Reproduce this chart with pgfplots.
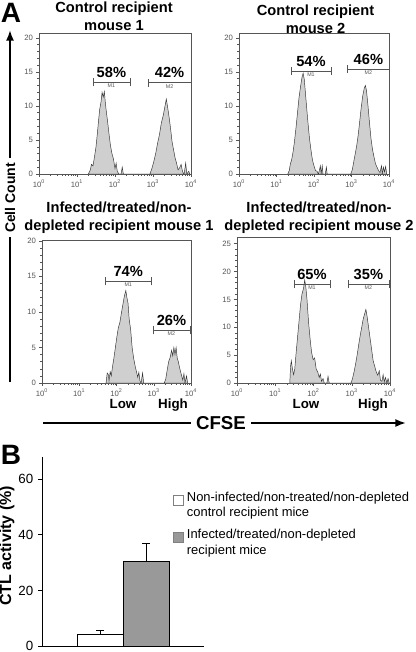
\documentclass[border=0pt]{standalone}
\usepackage{pgfplots}
\pgfplotsset{compat=1.18}
\usepackage{fontspec}
\setmainfont{Liberation Sans}
\usetikzlibrary{arrows.meta}
\definecolor{histfill}{HTML}{CFCFCF}
\definecolor{axgray}{HTML}{555555}
\definecolor{bargray}{HTML}{999999}

\pgfplotsset{
 hist/.style={
  scale only axis, xmin=0, xmax=4, ymin=0, anchor=south west,
  axis line style={axgray, line width=0.4pt},
  xtick={0,1,2,3,4},
  xticklabels={10\textsuperscript{0},10\textsuperscript{1},10\textsuperscript{2},10\textsuperscript{3},10\textsuperscript{4}},
  minor xtick={0.301,0.477,0.602,0.699,0.778,0.845,0.903,0.954,1.301,1.477,1.602,1.699,1.778,1.845,1.903,1.954,2.301,2.477,2.602,2.699,2.778,2.845,2.903,2.954,3.301,3.477,3.602,3.699,3.778,3.845,3.903,3.954},
  ytick distance=5, minor y tick num=4,
  tick align=outside, xtick pos=bottom, ytick pos=left,
  major tick length=2pt, minor tick length=1.2pt,
  tick style={axgray, line width=0.3pt},
  tick label style={font=\fontsize{5.8}{6.5}\selectfont, text=axgray},
  /pgf/number format/assume math mode=true,
  xticklabel style={yshift=1pt}, yticklabel style={xshift=1pt},
 },
 hplot/.style={fill=histfill, draw=black!80, line width=0.35pt},
}
\tikzset{gatestyle/.style={axgray, line width=0.45pt}}
\newcommand\gate[5]{%
 \draw[gatestyle] ([yshift=-3pt]axis cs:#1,#3) -- ([yshift=3pt]axis cs:#1,#3)
   ([yshift=-3pt]axis cs:#2,#3) -- ([yshift=3pt]axis cs:#2,#3)
   (axis cs:#1,#3) -- (axis cs:#2,#3);
 \path (axis cs:#1,#3) -- node[above, font=\bfseries\fontsize{11}{12}\selectfont]{#4\%}
   node[below=0pt, inner sep=1pt, font=\fontsize{4}{4}\selectfont, text=axgray]{#5} (axis cs:#2,#3);
}

\begin{document}
\begin{tikzpicture}[x=0.75pt,y=-0.75pt]
\useasboundingbox (0,0) rectangle (416,652);

% ---------- A1
\begin{axis}[hist, at={(29.25pt,-130.5pt)}, width=114pt, height=105.75pt, ymax=20.7]
\addplot[hplot] coordinates {
(1.30,0)(1.35,0.6)(1.38,1.4)(1.42,1.2)(1.46,2.5)(1.50,4.0)(1.54,6.2)(1.57,8.0)(1.60,9.6)(1.63,10.5)(1.66,12.0)(1.69,11.3)(1.72,12.1)(1.75,10.2)(1.78,8.8)(1.81,7.5)(1.84,6.0)(1.88,4.2)(1.92,3.0)(1.96,2.2)(2.00,0.8)(2.03,1.6)(2.06,0.4)(2.10,0)(2.16,0)(2.19,1.0)(2.22,0)
(2.92,0)(2.97,0.8)(3.02,1.8)(3.07,3.0)(3.12,4.5)(3.17,5.8)(3.22,7.5)(3.27,8.6)(3.31,9.8)(3.35,11.0)(3.38,10.0)(3.42,8.5)(3.46,6.8)(3.50,4.8)(3.54,3.6)(3.58,2.4)(3.62,1.6)(3.66,0.6)(3.70,0.9)(3.74,1.4)(3.78,0.3)(3.82,0)(3.86,1.6)(3.89,0)(3.94,0.4)(3.97,0)
} \closedcycle;
\gate{1.42}{2.39}{13.5}{58}{M1}
\gate{2.87}{4.0}{13.4}{42}{M2}
\end{axis}

% ---------- A2
\begin{axis}[hist, at={(179.25pt,-130.5pt)}, width=112.5pt, height=105.75pt, ymax=20.7]
\addplot[hplot] coordinates {
(1.30,0)(1.34,0.5)(1.37,1.5)(1.40,2.0)(1.44,3.2)(1.48,4.8)(1.52,6.8)(1.56,9.0)(1.60,11.2)(1.64,12.8)(1.68,14.2)(1.71,14.8)(1.74,13.9)(1.77,12.0)(1.80,10.0)(1.84,7.5)(1.88,5.2)(1.92,3.5)(1.96,2.0)(2.00,1.2)(2.04,0.5)(2.08,0.4)(2.12,0)(2.17,1.2)(2.19,0)(2.22,1.2)(2.24,0)(2.30,0)(2.33,1.0)(2.35,0)
(2.98,0)(3.02,0.6)(3.06,1.8)(3.10,3.0)(3.14,4.2)(3.18,5.8)(3.22,7.8)(3.26,9.8)(3.30,11.5)(3.34,12.6)(3.37,13.0)(3.40,12.2)(3.44,10.0)(3.48,7.5)(3.52,5.2)(3.56,3.6)(3.60,2.5)(3.64,1.5)(3.68,1.0)(3.72,0.5)(3.76,0.2)(3.80,1.2)(3.82,0)(3.85,1.0)(3.88,0.3)(3.91,1.1)(3.94,0)
} \closedcycle;
\gate{1.39}{2.45}{15.1}{54}{M1}
\gate{2.9}{4.0}{15.4}{46}{M2}
\end{axis}

% ---------- A3
\begin{axis}[hist, at={(31.5pt,-287.25pt)}, width=111.75pt, height=106.7pt, ymax=20]
\addplot[hplot] coordinates {
(1.72,0)(1.75,1.4)(1.78,1.2)(1.80,0.3)(1.83,1.6)(1.86,1.0)(1.89,2.2)(1.93,3.5)(1.97,5.0)(2.01,6.5)(2.05,7.8)(2.09,8.5)(2.13,9.8)(2.17,11.0)(2.21,12.2)(2.25,13.0)(2.28,12.0)(2.31,11.2)(2.34,9.0)(2.38,7.5)(2.42,5.0)(2.46,3.5)(2.50,2.4)(2.54,1.5)(2.57,0.8)(2.60,1.5)(2.63,0.3)(2.66,0)(2.70,1.4)(2.73,0)
(3.28,0)(3.32,0.5)(3.36,1.8)(3.40,3.0)(3.44,3.6)(3.48,4.6)(3.51,3.8)(3.54,5.0)(3.57,4.0)(3.60,5.0)(3.63,3.5)(3.66,3.0)(3.70,2.0)(3.74,1.2)(3.78,0.4)(3.81,1.3)(3.84,0)(3.88,1.0)(3.91,0)
} \closedcycle;
\gate{1.7}{2.93}{14.3}{74}{M1}
\gate{2.98}{3.97}{7.4}{26}{M2}
\end{axis}

% ---------- A4
\begin{axis}[hist, at={(177.75pt,-287.25pt)}, width=114.75pt, height=109.5pt, ymax=26.2]
\addplot[hplot] coordinates {
(1.38,0)(1.40,3.0)(1.42,4.0)(1.45,2.5)(1.48,1.5)(1.51,2.5)(1.54,5.0)(1.58,8.0)(1.62,11.0)(1.66,14.0)(1.70,16.0)(1.74,17.0)(1.77,18.5)(1.80,17.2)(1.83,15.0)(1.87,11.0)(1.91,8.0)(1.95,5.5)(1.99,4.2)(2.03,4.5)(2.07,2.5)(2.11,2.0)(2.15,1.0)(2.18,1.6)(2.21,0.3)(2.25,0.8)(2.28,0)(2.35,0)(2.38,1.2)(2.41,0)
(2.98,0)(3.02,0.8)(3.06,2.0)(3.10,3.4)(3.14,5.0)(3.18,6.8)(3.22,8.5)(3.26,10.0)(3.30,11.5)(3.34,12.5)(3.37,13.2)(3.40,12.0)(3.44,10.0)(3.48,8.0)(3.52,6.0)(3.56,4.0)(3.60,3.0)(3.64,2.0)(3.68,1.4)(3.72,2.2)(3.75,0.5)(3.79,0.3)(3.82,1.5)(3.85,0.2)(3.88,1.0)(3.92,0)(3.95,0.8)(3.98,0)
} \closedcycle;
\gate{1.49}{2.43}{17.7}{65}{M1}
\gate{2.9}{3.97}{17.7}{35}{M2}
\end{axis}

% ---------- B
\begin{axis}[scale only axis, at={(31.5pt,-484.5pt)}, anchor=south west,
  width=121.5pt, height=141.75pt, xmin=0, xmax=162, ymin=0, ymax=68,
  axis x line=bottom, axis y line=left, axis line style={-, black, line width=0.6pt},
  xtick=\empty, ytick={0,20,40,60}, tick align=outside, major tick length=3pt,
  tick style={black, line width=0.6pt},
  tick label style={font=\fontsize{10}{12}\selectfont},
  /pgf/number format/assume math mode=true,
  ylabel={CTL activity (\%)},
  ylabel style={font=\bfseries\fontsize{12}{14}\selectfont, at={(axis description cs:-0.216,0.53)}, anchor=center},
  legend style={at={(0.809,0.83)}, anchor=north west, draw=none, fill=none, inner sep=0pt,
    font=\fontsize{9.7}{11.5}\selectfont, cells={align=left}, row sep=4pt},
  legend cell align=left,
]
\addplot[ybar, bar width=46, bar shift=0pt, fill=white, draw=black, line width=0.7pt,
  legend image code/.code={\draw[draw=gray, fill=white] (0pt,0pt) rectangle (7.5pt,7.5pt);},
  error bars/.cd, y dir=plus, y explicit, error bar style={black, line width=0.7pt},
  error mark=-, error mark options={rotate=90, black, mark size=3pt, line width=0.7pt}]
  coordinates {(58,4.3) +- (0,1.2)};
\addlegendentry{Non-infected/non-treated/non-depleted\\control recipient mice}
\addplot[ybar, bar width=46, bar shift=0pt, fill=bargray, draw=black, line width=0.7pt,
  legend image code/.code={\draw[draw=gray, fill=bargray] (0pt,0pt) rectangle (7.5pt,7.5pt);},
  error bars/.cd, y dir=plus, y explicit, error bar style={black, line width=0.7pt},
  error mark=-, error mark options={rotate=90, black, mark size=3pt, line width=0.7pt}]
  coordinates {(104,30.3) +- (0,6.7)};
\addlegendentry{Infected/treated/non-depleted\\recipient mice}
\end{axis}

% ---------- annotations
\node[font=\bfseries\fontsize{21}{21}\selectfont] at (11,13) {A};
\node[font=\bfseries\fontsize{21}{21}\selectfont] at (11,455) {B};
\node[font=\bfseries\fontsize{11}{13.5}\selectfont, align=center] at (114,16) {Control recipient\\mouse 1};
\node[font=\bfseries\fontsize{11}{13.5}\selectfont, align=center] at (315.5,19.5) {Control recipient\\mouse 2};
\node[font=\bfseries\fontsize{11}{13.5}\selectfont, align=center] at (119,217.5) {Infected/treated/non-\\depleted recipient mouse 1};
\node[font=\bfseries\fontsize{11}{13.5}\selectfont, align=center] at (319,217.5) {Infected/treated/non-\\depleted recipient mouse 2};
\node[font=\bfseries\fontsize{10}{12}\selectfont, anchor=base] at (123,408) {Low};
\node[font=\bfseries\fontsize{10}{12}\selectfont, anchor=base] at (173,408) {High};
\node[font=\bfseries\fontsize{10}{12}\selectfont, anchor=base] at (306,408) {Low};
\node[font=\bfseries\fontsize{10}{12}\selectfont, anchor=base] at (373,408) {High};
\node[font=\bfseries\fontsize{14}{14}\selectfont] at (221,423) {CFSE};
\draw[line width=1.3pt] (43,423) -- (191,423);
\draw[line width=1.3pt, -{Latex[length=8pt,width=6pt]}] (251,423) -- (406,423);
\node[rotate=90, font=\bfseries\fontsize{10.5}{12}\selectfont] at (10,198) {Cell Count};
\draw[line width=1.3pt, -{Latex[length=8pt,width=6pt]}] (10,158) -- (10,30);
\draw[line width=1.3pt] (10,237) -- (10,382);
\end{tikzpicture}
\end{document}
